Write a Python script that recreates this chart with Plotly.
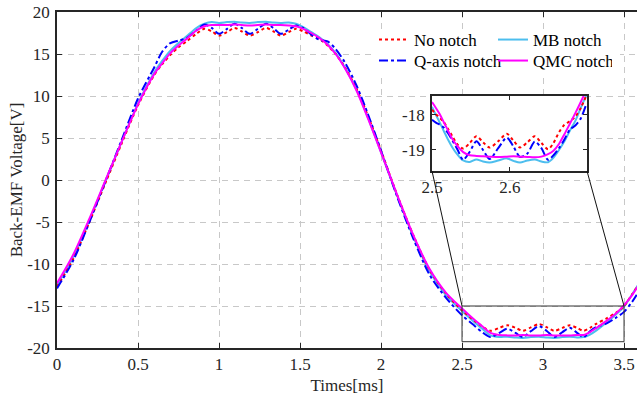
import plotly.graph_objects as go

# ---------------- data ----------------
t_ms = [0, 0.1, 0.2, 0.3, 0.4, 0.5, 0.6, 0.65, 0.7, 0.75, 0.8,
        0.86, 0.91, 0.955, 1.0, 1.05, 1.095, 1.14, 1.19, 1.24, 1.29, 1.335, 1.38, 1.43, 1.475,
        1.52, 1.57, 1.62, 1.67, 1.72, 1.78, 1.85, 1.92, 2.0, 2.1, 2.2, 2.3, 2.4, 2.5,
        2.58, 2.63, 2.675, 2.73, 2.78, 2.83, 2.875, 2.925, 2.975, 3.025, 3.07, 3.12, 3.165,
        3.21, 3.25, 3.29, 3.33, 3.39, 3.45, 3.5, 3.55, 3.6]

no_notch = [-12.7, -9.4, -5.0, -0.3, 4.4, 8.9, 12.5, 13.8, 14.9, 15.8, 16.5,
            17.4, 18.0, 17.7, 17.2, 17.6, 18.1, 17.7, 17.2, 17.6, 18.1, 17.7, 17.2, 17.6, 18.0,
            17.7, 17.2, 16.8, 16.0, 15.0, 13.3, 10.8, 7.6, 3.5, -1.8, -6.6, -10.7, -13.5, -15.5,
            -16.8, -17.5, -17.95, -17.6, -17.3, -17.6, -17.95, -17.55, -17.15, -17.55, -17.95, -17.6, -17.3,
            -17.6, -17.95, -17.6, -17.1, -16.5, -15.8, -15.0, -13.6, -12.2]

mb_notch = [-12.5, -9.2, -4.8, -0.1, 4.6, 9.1, 12.8, 14.2, 15.4, 16.3, 17.1,
            18.1, 18.6, 18.8, 18.7, 18.8, 18.85, 18.75, 18.7, 18.8, 18.85, 18.75, 18.7, 18.75, 18.6,
            18.2, 17.6, 17.0, 16.2, 15.1, 13.3, 10.7, 7.4, 3.3, -1.9, -6.8, -10.9, -13.7, -15.6,
            -17.0, -17.8, -18.5, -18.7, -18.65, -18.75, -18.8, -18.7, -18.65, -18.75, -18.8, -18.7, -18.65,
            -18.75, -18.7, -18.4, -17.9, -17.0, -16.0, -15.1, -13.6, -12.1]

q_axis_notch = [-12.9, -9.6, -5.0, -0.1, 4.8, 9.7, 13.4, 15.3, 16.3, 16.6, 16.9,
                17.8, 18.5, 18.1, 17.4, 18.0, 18.6, 18.1, 17.4, 18.0, 18.6, 18.1, 17.4, 17.9, 18.4,
                18.1, 17.3, 16.7, 16.5, 15.6, 13.9, 11.2, 7.8, 3.5, -2.0, -7.0, -11.3, -14.0, -16.1,
                -17.4, -18.2, -18.7, -18.2, -17.7, -18.2, -18.7, -18.0, -17.4, -18.0, -18.7, -18.1, -17.6,
                -18.2, -18.7, -18.0, -17.5, -17.1, -16.4, -15.7, -14.5, -13.0]

qmc_notch = [-12.3, -8.9, -4.6, 0.0, 4.6, 9.0, 12.6, 13.9, 15.1, 16.0, 16.8,
             17.8, 18.3, 18.45, 18.45, 18.45, 18.5, 18.45, 18.4, 18.45, 18.5, 18.45, 18.45, 18.4, 18.3,
             18.0, 17.5, 16.9, 16.1, 15.0, 13.2, 10.6, 7.3, 3.3, -1.8, -6.6, -10.6, -13.4, -15.3,
             -16.7, -17.5, -18.2, -18.45, -18.5, -18.5, -18.45, -18.5, -18.5, -18.45, -18.5, -18.5, -18.5,
             -18.45, -18.45, -18.1, -17.6, -16.8, -15.9, -14.9, -13.7, -12.2]

# inset (zoomed view) data
inset_t = [2.500, 2.505, 2.510, 2.515, 2.520, 2.526, 2.533, 2.540, 2.5485, 2.557, 2.5655,
           2.574, 2.585, 2.596, 2.6045, 2.613, 2.6225, 2.632, 2.6405, 2.649, 2.656, 2.663,
           2.670, 2.677, 2.684, 2.691, 2.698]
inset_no_notch = [-17.85, -17.98, -18.08, -18.2, -18.38, -18.6, -18.85, -18.96, -18.8, -18.61, -18.78,
                  -18.93, -18.75, -18.54, -18.73, -18.93, -18.78, -18.61, -18.8, -18.98, -18.8, -18.5,
                  -18.28, -18.18, -18.05, -17.8, -17.45]
inset_mb_notch = [-17.77, -18.0, -18.22, -18.45, -18.68, -18.92, -19.14, -19.3, -19.34, -19.27, -19.33,
                  -19.36, -19.3, -19.24, -19.31, -19.36, -19.3, -19.27, -19.33, -19.35, -19.22, -19.0,
                  -18.75, -18.45, -18.17, -17.8, -17.45]
inset_q_axis_notch = [-18.14, -18.22, -18.28, -18.36, -18.5, -18.72, -19.0, -19.28, -19.05, -18.75, -19.0,
                      -19.26, -18.95, -18.65, -18.9, -19.2, -19.1, -18.76, -18.95, -19.28, -19.15, -18.95,
                      -18.7, -18.42, -18.3, -18.1, -17.7]
inset_qmc_notch = [-17.63, -17.8, -17.98, -18.2, -18.42, -18.68, -18.9, -19.06, -19.15, -19.17, -19.18,
                   -19.19, -19.2, -19.19, -19.18, -19.19, -19.2, -19.21, -19.19, -19.12, -19.02, -18.83,
                   -18.55, -18.25, -17.95, -17.63, -17.3]

x_ticks = [0, 0.5, 1, 1.5, 2, 2.5, 3, 3.5]
x_tick_text = ["0", "0.5", "1", "1.5", "2", "2.5", "3", "3.5"]
y_ticks = [-20, -15, -10, -5, 0, 5, 10, 15, 20]
y_tick_text = ["-20", "-15", "-10", "-5", "0", "5", "10", "15", "20"]
inset_x_ticks = [2.5, 2.6]
inset_x_tick_text = ["2.5", "2.6"]
inset_y_ticks = [-19, -18]
inset_y_tick_text = ["-19", "-18"]

zoom_box_x = [2.5, 3.5]
zoom_box_y = [-19.25, -15]

# ---------------- layout constants ----------------
W, H = 638, 397
ML, MR, MT, MB = 57, 1, 12, 49
PW, PH = W - ML - MR, H - MT - MB
X_RANGE = [0, 3.58]
Y_RANGE = [-20, 20]
INSET_X_RANGE = [2.5, 2.699]
INSET_Y_RANGE = [-19.6, -17.46]
INSET_DOM_X = [(432 - ML) / PW, (587 - ML) / PW]
INSET_DOM_Y = [(H - MB - 171) / PH, (H - MB - 96) / PH]
LEGEND_BOX_PX = (372, 620, 29, 73)  # left, right, top, bottom (white area behind legend)

FONT = "Liberation Serif"
AXC = "#262626"
GRIDC = "#c8c8c8"

styles = {
    "No notch": dict(color="#FF0000", width=2, dash="dot"),
    "MB notch": dict(color="#4DBEEE", width=2, dash="solid"),
    "Q-axis notch": dict(color="#0000FF", width=2, dash="dashdot"),
    "QMC notch": dict(color="#FF00FF", width=2, dash="solid"),
}
# two legend rows: top row = No notch, MB notch ; bottom row = Q-axis notch, QMC notch
legend_of = {"No notch": "legend2", "MB notch": "legend2",
             "Q-axis notch": "legend", "QMC notch": "legend"}
legend_rank = {"No notch": 1, "MB notch": 2, "Q-axis notch": 1, "QMC notch": 2}

main_data = {"No notch": no_notch, "MB notch": mb_notch,
             "Q-axis notch": q_axis_notch, "QMC notch": qmc_notch}
inset_data = {"No notch": inset_no_notch, "MB notch": inset_mb_notch,
              "Q-axis notch": inset_q_axis_notch, "QMC notch": inset_qmc_notch}

draw_order = ["MB notch", "No notch", "Q-axis notch", "QMC notch"]

fig = go.Figure()
for name in draw_order:
    fig.add_trace(go.Scatter(
        x=t_ms, y=main_data[name], mode="lines", name=name,
        line=dict(shape="spline", smoothing=0.8, **styles[name]),
        legend=legend_of[name], legendrank=legend_rank[name],
        xaxis="x", yaxis="y"))
for name in draw_order:
    fig.add_trace(go.Scatter(
        x=inset_t, y=inset_data[name], mode="lines", name=name,
        line=dict(shape="spline", smoothing=0.8, **styles[name]),
        showlegend=False, xaxis="x2", yaxis="y2"))


def px_paper(x):
    return (x - X_RANGE[0]) / (X_RANGE[1] - X_RANGE[0])


def py_paper(y):
    return (y - Y_RANGE[0]) / (Y_RANGE[1] - Y_RANGE[0])


lb_l, lb_r, lb_t, lb_b = LEGEND_BOX_PX
shapes = [
    # white background behind the legend rows
    dict(type="rect", xref="paper", yref="paper",
         x0=(lb_l - ML) / PW, x1=(lb_r - ML) / PW,
         y0=(H - MB - lb_b) / PH, y1=(H - MB - lb_t) / PH,
         fillcolor="white", line=dict(width=0), layer="above"),
    # white background of the inset
    dict(type="rect", xref="x2", yref="y2", x0=INSET_X_RANGE[0], x1=INSET_X_RANGE[1],
         y0=INSET_Y_RANGE[0], y1=INSET_Y_RANGE[1], fillcolor="white",
         line=dict(width=0), layer="below"),
    # zoom rectangle
    dict(type="rect", xref="x", yref="y", x0=zoom_box_x[0], x1=zoom_box_x[1],
         y0=zoom_box_y[0], y1=zoom_box_y[1], line=dict(color="#333333", width=1),
         fillcolor="rgba(0,0,0,0)", layer="above"),
    # connector lines
    dict(type="line", xref="paper", yref="paper", x0=INSET_DOM_X[0], y0=INSET_DOM_Y[0],
         x1=px_paper(zoom_box_x[0]), y1=py_paper(zoom_box_y[1]),
         line=dict(color="#111111", width=1), layer="above"),
    dict(type="line", xref="paper", yref="paper", x0=INSET_DOM_X[1], y0=INSET_DOM_Y[0],
         x1=px_paper(zoom_box_x[1]), y1=py_paper(zoom_box_y[1]),
         line=dict(color="#111111", width=1), layer="above"),
]

tickfont = dict(family=FONT, size=17, color=AXC)
legend_common = dict(font=dict(family=FONT, size=17, color="black"),
                     bgcolor="rgba(0,0,0,0)", borderwidth=0, itemwidth=30,
                     yanchor="middle", xanchor="left",
                     orientation="h", traceorder="normal",
                     entrywidth=74, entrywidthmode="pixels")

fig.update_layout(
    width=W, height=H,
    margin=dict(l=ML, r=MR, t=MT, b=MB, pad=0),
    paper_bgcolor="white", plot_bgcolor="white",
    font=dict(family=FONT, size=17, color=AXC),
    showlegend=True,
    shapes=shapes,
    legend2=dict(x=(374 - ML) / PW, y=(H - MB - 40) / PH, **legend_common),
    legend=dict(x=(374 - ML) / PW, y=(H - MB - 61) / PH, **legend_common),
    xaxis=dict(domain=[0, 1], range=X_RANGE, tickvals=x_ticks, ticktext=x_tick_text,
               ticks="inside", ticklen=5, tickwidth=1.3, tickcolor=AXC,
               showline=True, linecolor=AXC, linewidth=1.6, mirror="ticks",
               showgrid=True, gridcolor=GRIDC, gridwidth=1.3, griddash="6px,5px",
               zeroline=False, tickfont=tickfont, automargin=False,
               title=dict(text="Times[ms]", font=dict(family=FONT, size=17, color=AXC),
                          standoff=6)),
    yaxis=dict(domain=[0, 1], range=Y_RANGE, tickvals=y_ticks, ticktext=y_tick_text,
               ticks="inside", ticklen=5, tickwidth=1.3, tickcolor=AXC,
               showline=True, linecolor=AXC, linewidth=1.6, mirror=False,
               showgrid=True, gridcolor=GRIDC, gridwidth=1.3, griddash="6px,5px",
               zeroline=False, tickfont=tickfont, automargin=False, ticklabelstandoff=2,
               title=dict(text="Back-EMF Voltage[V]",
                          font=dict(family=FONT, size=17, color=AXC), standoff=0)),
    xaxis2=dict(domain=INSET_DOM_X, anchor="y2", range=INSET_X_RANGE,
                tickvals=inset_x_ticks, ticktext=inset_x_tick_text,
                ticks="inside", ticklen=4, tickwidth=1.3, tickcolor=AXC,
                showline=True, linecolor=AXC, linewidth=1.8, mirror="ticks",
                showgrid=False, zeroline=False, tickfont=tickfont, automargin=False),
    yaxis2=dict(domain=INSET_DOM_Y, anchor="x2", range=INSET_Y_RANGE,
                tickvals=inset_y_ticks, ticktext=inset_y_tick_text,
                ticks="inside", ticklen=4, tickwidth=1.3, tickcolor=AXC,
                showline=True, linecolor=AXC, linewidth=1.8, mirror="ticks",
                showgrid=False, zeroline=False, tickfont=tickfont, automargin=False,
                ticklabelstandoff=2),
)

fig.write_html("out.html", config={"displayModeBar": False},
               post_script="document.body.style.margin='0';document.body.style.padding='0';")
